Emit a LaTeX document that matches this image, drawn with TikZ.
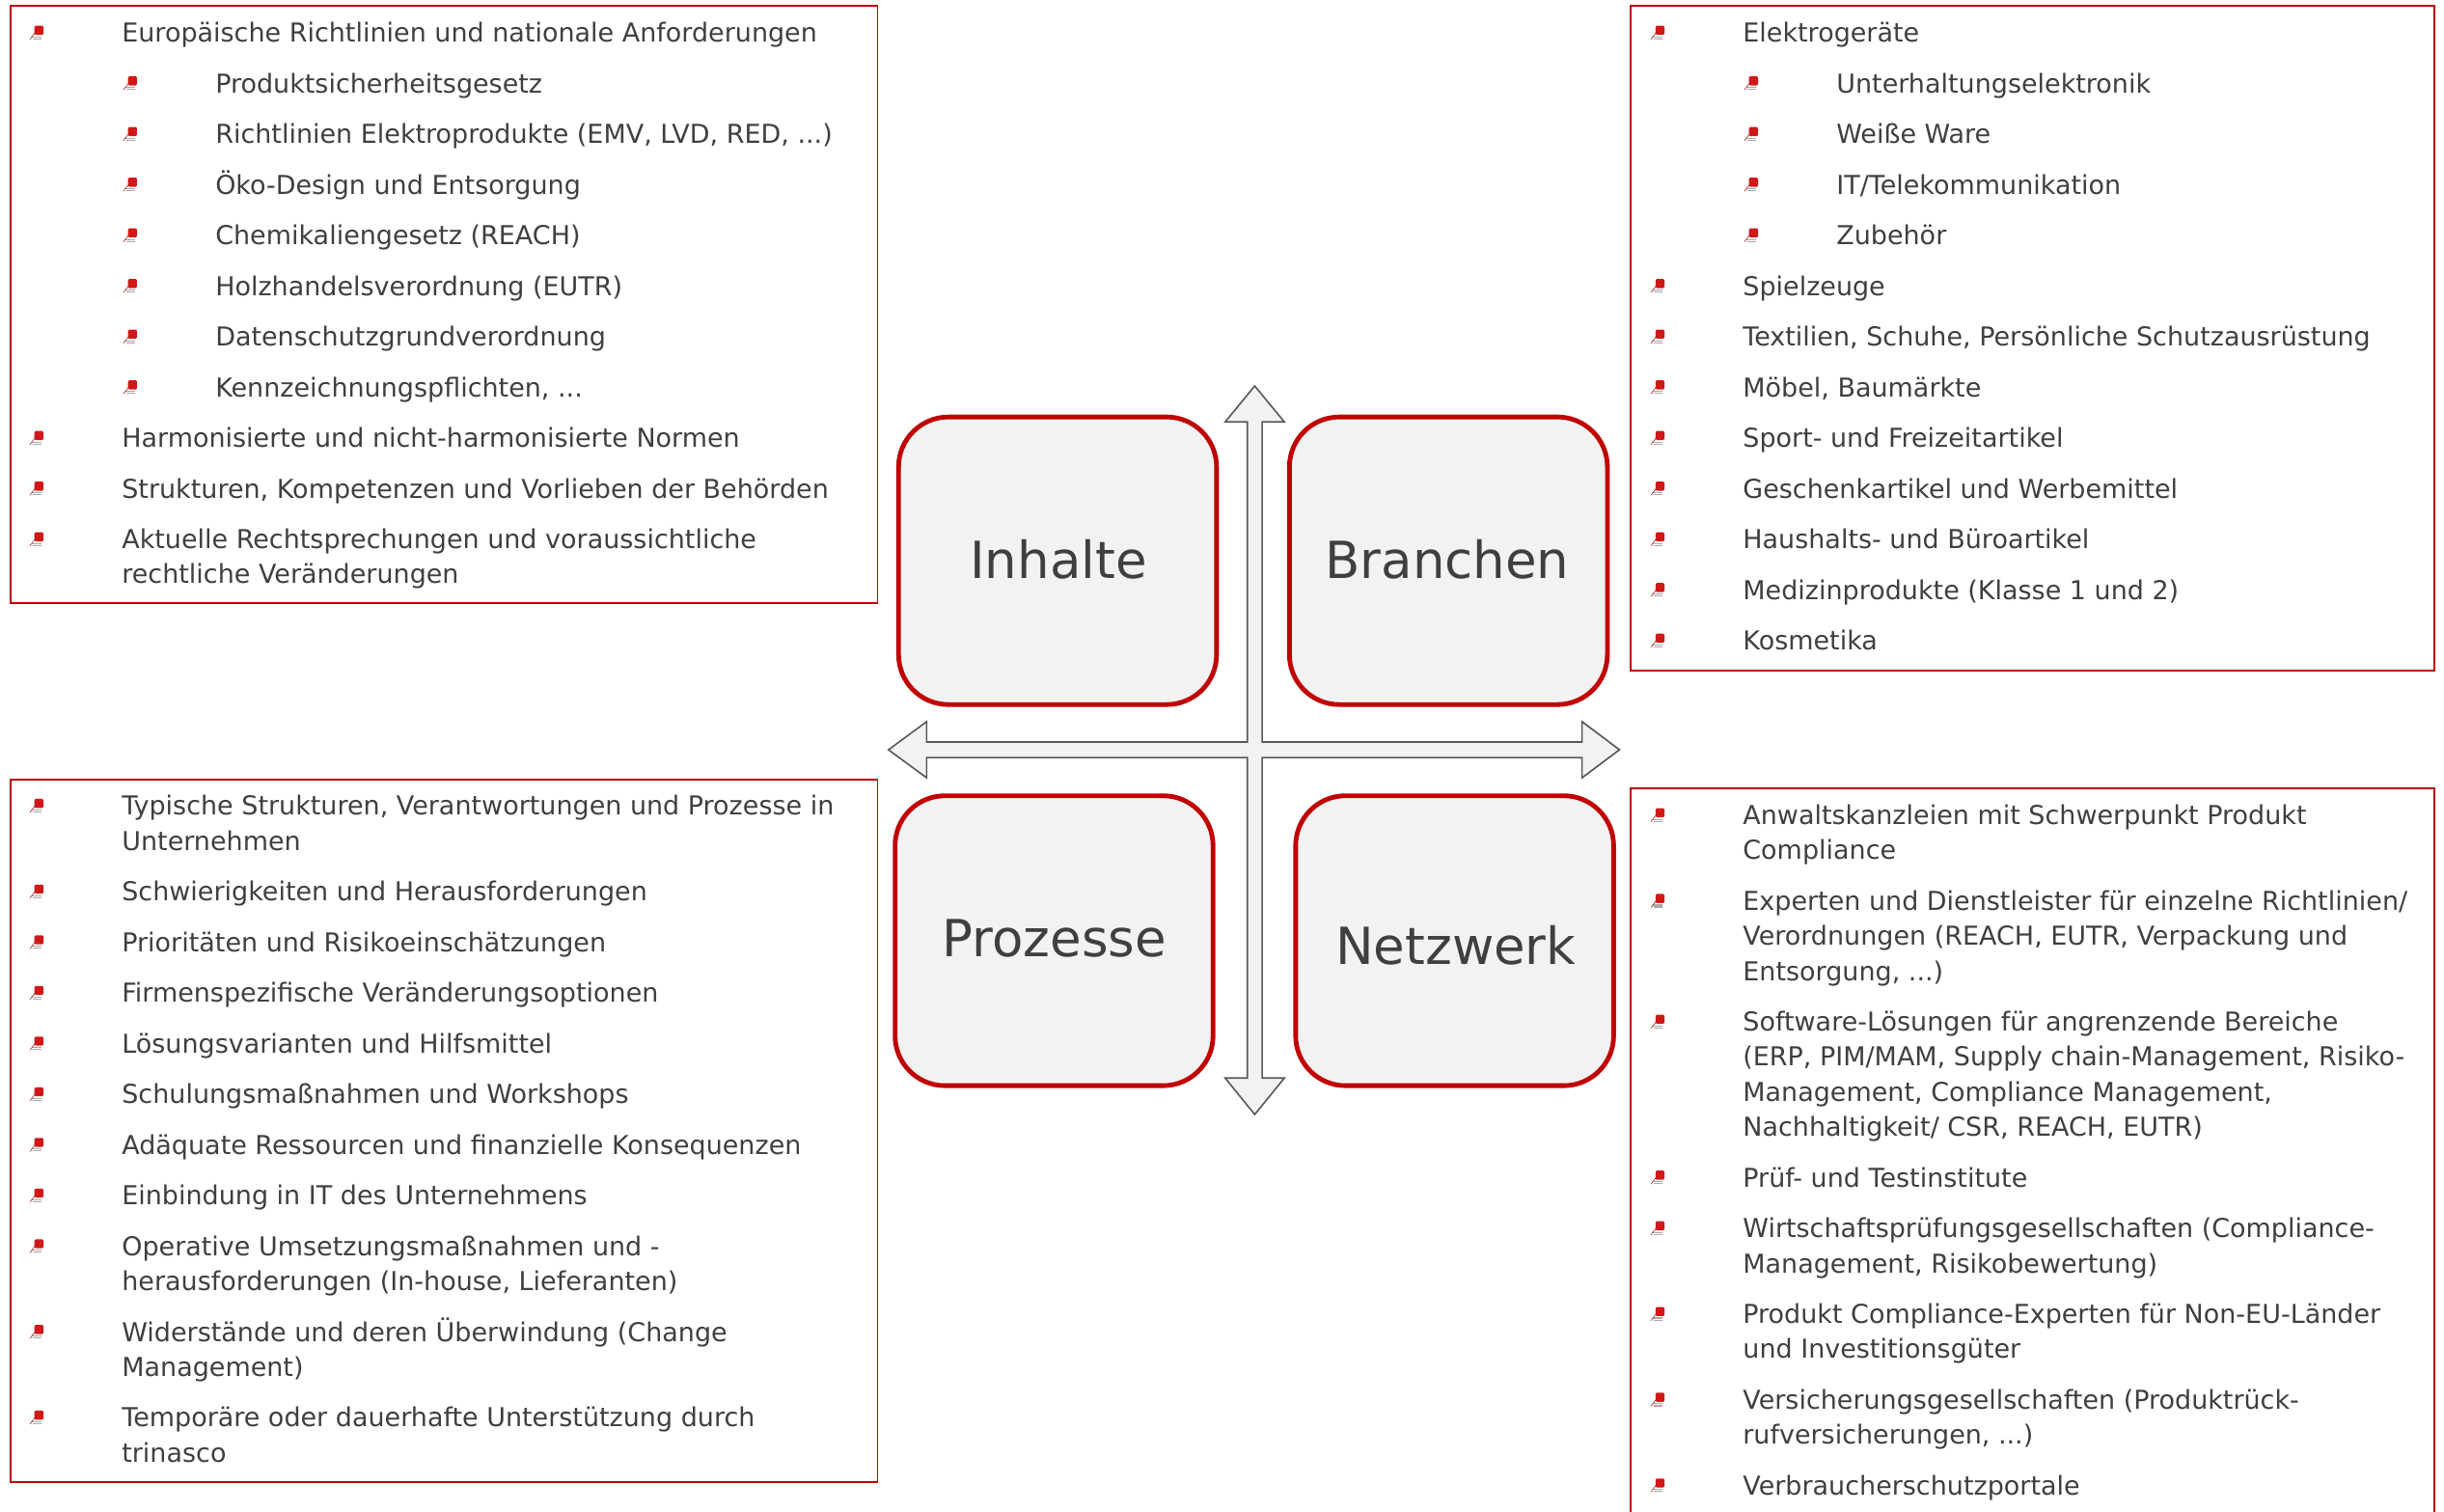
\documentclass[tikz,border=0pt]{standalone}
\usepackage{fontspec}
\setmainfont{DejaVu Sans}
\definecolor{brd}{HTML}{C00000}
\definecolor{txt}{HTML}{3F3F3F}
\definecolor{boxfill}{HTML}{F2F2F2}
\definecolor{arrgray}{HTML}{595959}
\definecolor{bulred}{HTML}{D01818}
\definecolor{bulgray}{HTML}{A8A8A8}
\tikzset{
  frame/.style={draw=brd, line width=1.2, rectangle, inner sep=0},
  quad/.style={draw=brd, fill=boxfill, line width=3, rounded corners=32, minimum width=204, minimum height=184.5, inner sep=0},
  biglabel/.style={anchor=base, inner sep=0, text=txt, font=\fontsize{32.8}{36}\selectfont},
  litem/.style={anchor=base west, inner sep=0, text=txt, font=\fontsize{16.7}{20}\selectfont},
  crossarrow/.style={draw=arrgray, fill=boxfill, line width=1, line join=miter},
  bul/.pic={
    \fill[bulred, rounded corners=0.8] (-1.9,-4.5) rectangle (3.9,1.3);
    \draw[bulgray, line width=0.7] (-3.4,2.6) -- (2.8,2.6);
    \draw[bulgray, line width=0.7] (-3.0,3.9) -- (2.6,3.9);
    \draw[brd!70!gray, line width=0.4] (-4.8,4.2) -- (-1.3,-0.4);
  }
}
\newcommand\LItem[5]{\pic at (#2,#4) {bul}; \node[litem] (#1) at (#3,#4+6) {#5};}
\newcommand\LCont[4]{\node[litem] (#1) at (#2,#3+6) {#4};}
\begin{document}
\begin{tikzpicture}[x=1pt,y=-1pt]
\useasboundingbox (0,0) rectangle (1568,969.4);

% frames
\node[frame, minimum width=556, minimum height=383] (tlframe) at (285,195.5) {};
\node[frame, minimum width=516, minimum height=426] (trframe) at (1304,217) {};
\node[frame, minimum width=556, minimum height=451] (blframe) at (285,725.5) {};
\node[frame, minimum width=516, minimum height=474] (brframe) at (1304,743) {};

% cross arrow
\draw[crossarrow] (805,247.6) -- (824,270.7) -- (809.75,270.7) -- (809.75,476) -- (1015,476) -- (1015,463) -- (1039,481) -- (1015,499) -- (1015,486) -- (809.75,486) -- (809.75,691.6) -- (824,691.6) -- (805,715) -- (786,691.6) -- (800.25,691.6) -- (800.25,486) -- (594.5,486) -- (594.5,499) -- (570,481) -- (594.5,463) -- (594.5,476) -- (800.25,476) -- (800.25,270.7) -- (786,270.7) -- cycle;

% quadrant boxes
\node[quad] (inh) at (678.5,359.75) {};
\node[quad] (bra) at (929.25,359.75) {};
\node[quad, minimum height=186] (pro) at (676.25,603.5) {};
\node[quad, minimum height=186] (net) at (933.25,603.5) {};
\node[biglabel] (inhl) at (679,371) {Inhalte};
\node[biglabel] (bral) at (928.5,371) {Branchen};
\node[biglabel] (prol) at (676.5,614) {Prozesse};
\node[biglabel] (netl) at (934,618.5) {Netzwerk};

% top left
\LItem{tl1}{24}{78}{21}{Europäische Richtlinien und nationale Anforderungen}
\LItem{tl2}{84}{138}{53.5}{Produktsicherheitsgesetz}
\LItem{tl3}{84}{138}{86}{Richtlinien Elektroprodukte (EMV, LVD, RED, ...)}
\LItem{tl4}{84}{138}{118.5}{Öko-Design und Entsorgung}
\LItem{tl5}{84}{138}{151}{Chemikaliengesetz (REACH)}
\LItem{tl6}{84}{138}{183.5}{Holzhandelsverordnung (EUTR)}
\LItem{tl7}{84}{138}{216}{Datenschutzgrundverordnung}
\LItem{tl8}{84}{138}{248.5}{Kennzeichnungspflichten, ...}
\LItem{tl9}{24}{78}{281}{Harmonisierte und nicht-harmonisierte Normen}
\LItem{tl10}{24}{78}{313.5}{Strukturen, Kompetenzen und Vorlieben der Behörden}
\LItem{tl11}{24}{78}{346}{Aktuelle Rechtsprechungen und voraussichtliche}
\LCont{tl11b}{78}{368.5}{rechtliche Veränderungen}

% top right
\LItem{tr1}{1064}{1118}{21}{Elektrogeräte}
\LItem{tr2}{1124}{1178}{53.5}{Unterhaltungselektronik}
\LItem{tr3}{1124}{1178}{86}{Weiße Ware}
\LItem{tr4}{1124}{1178}{118.5}{IT/Telekommunikation}
\LItem{tr5}{1124}{1178}{151}{Zubehör}
\LItem{tr6}{1064}{1118}{183.5}{Spielzeuge}
\LItem{tr7}{1064}{1118}{216}{Textilien, Schuhe, Persönliche Schutzausrüstung}
\LItem{tr8}{1064}{1118}{248.5}{Möbel, Baumärkte}
\LItem{tr9}{1064}{1118}{281}{Sport- und Freizeitartikel}
\LItem{tr10}{1064}{1118}{313.5}{Geschenkartikel und Werbemittel}
\LItem{tr11}{1064}{1118}{346}{Haushalts- und Büroartikel}
\LItem{tr12}{1064}{1118}{378.5}{Medizinprodukte (Klasse 1 und 2)}
\LItem{tr13}{1064}{1118}{411}{Kosmetika}

% bottom left
\LItem{bl1}{24}{78}{517}{Typische Strukturen, Verantwortungen und Prozesse in}
\LCont{bl1b}{78}{539.5}{Unternehmen}
\LItem{bl2}{24}{78}{572}{Schwierigkeiten und Herausforderungen}
\LItem{bl3}{24}{78}{604.5}{Prioritäten und Risikoeinschätzungen}
\LItem{bl4}{24}{78}{637}{Firmenspezifische Veränderungsoptionen}
\LItem{bl5}{24}{78}{669.5}{Lösungsvarianten und Hilfsmittel}
\LItem{bl6}{24}{78}{702}{Schulungsmaßnahmen und Workshops}
\LItem{bl7}{24}{78}{734.5}{Adäquate Ressourcen und finanzielle Konsequenzen}
\LItem{bl8}{24}{78}{767}{Einbindung in IT des Unternehmens}
\LItem{bl9}{24}{78}{799.5}{Operative Umsetzungsmaßnahmen und -}
\LCont{bl9b}{78}{822}{herausforderungen (In-house, Lieferanten)}
\LItem{bl10}{24}{78}{854.5}{Widerstände und deren Überwindung (Change}
\LCont{bl10b}{78}{877}{Management)}
\LItem{bl11}{24}{78}{909.5}{Temporäre oder dauerhafte Unterstützung durch}
\LCont{bl11b}{78}{932}{trinasco}

% bottom right
\LItem{br1}{1064}{1118}{523}{Anwaltskanzleien mit Schwerpunkt Produkt}
\LCont{br1b}{1118}{545.5}{Compliance}
\LItem{br2}{1064}{1118}{578}{Experten und Dienstleister für einzelne Richtlinien/}
\LCont{br2b}{1118}{600.5}{Verordnungen (REACH, EUTR, Verpackung und}
\LCont{br2c}{1118}{623}{Entsorgung, ...)}
\LItem{br3}{1064}{1118}{655.5}{Software-Lösungen für angrenzende Bereiche}
\LCont{br3b}{1118}{678}{(ERP, PIM/MAM, Supply chain-Management, Risiko-}
\LCont{br3c}{1118}{700.5}{Management, Compliance Management,}
\LCont{br3d}{1118}{723}{Nachhaltigkeit/ CSR, REACH, EUTR)}
\LItem{br4}{1064}{1118}{755.5}{Prüf- und Testinstitute}
\LItem{br5}{1064}{1118}{788}{Wirtschaftsprüfungsgesellschaften (Compliance-}
\LCont{br5b}{1118}{810.5}{Management, Risikobewertung)}
\LItem{br6}{1064}{1118}{843}{Produkt Compliance-Experten für Non-EU-Länder}
\LCont{br6b}{1118}{865.5}{und Investitionsgüter}
\LItem{br7}{1064}{1118}{898}{Versicherungsgesellschaften (Produktrück-}
\LCont{br7b}{1118}{920.5}{rufversicherungen, ...)}
\LItem{br8}{1064}{1118}{953}{Verbraucherschutzportale}
\end{tikzpicture}
\end{document}
